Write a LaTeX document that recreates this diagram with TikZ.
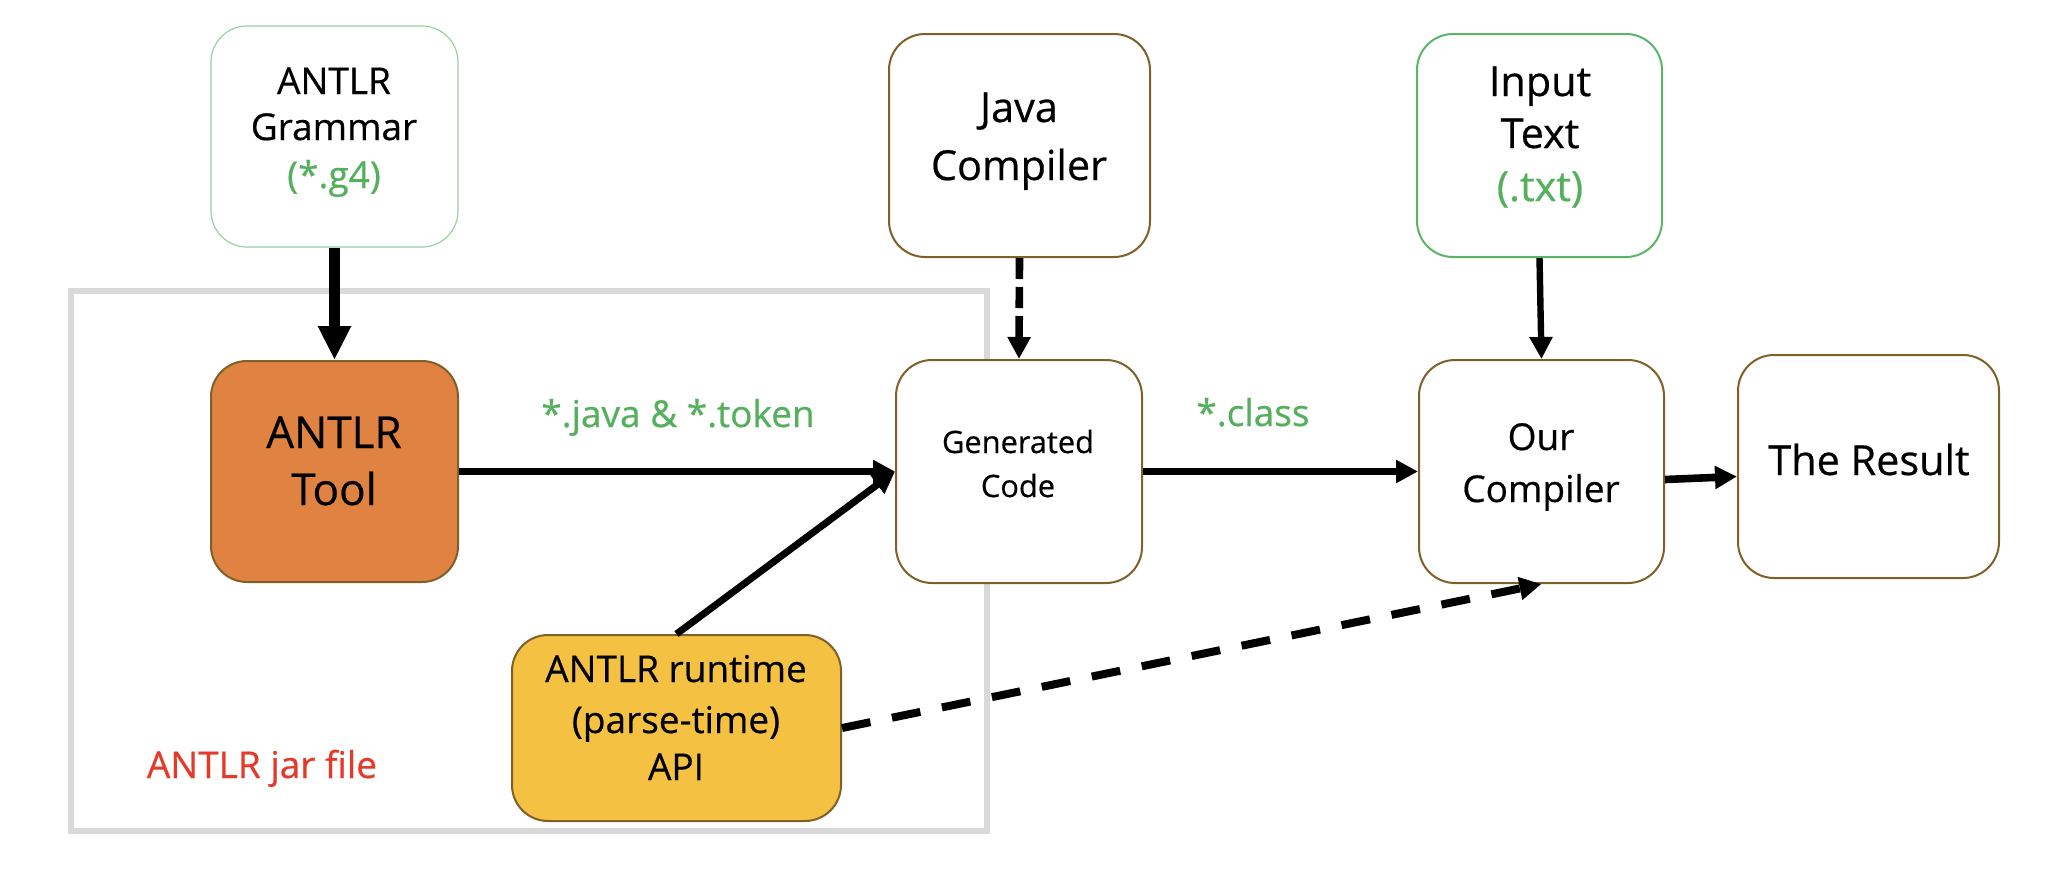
\documentclass[tikz,border=0pt]{standalone}
\usepackage{fontspec}
\setmainfont{Open Sans}[FakeBold=0.5]
\usetikzlibrary{arrows.meta}
\definecolor{brownb}{RGB}{127,96,40}
\definecolor{lgreen}{RGB}{150,210,160}
\definecolor{mgreen}{RGB}{92,180,105}
\definecolor{gtext}{RGB}{84,176,92}
\definecolor{orangef}{RGB}{224,130,66}
\definecolor{yellowf}{RGB}{245,193,66}
\definecolor{redt}{RGB}{229,57,42}
\definecolor{framegrey}{RGB}{217,217,217}
\tikzset{
  box/.style={draw=brownb, line width=1pt, rounded corners=18pt, fill=white, inner sep=0pt},
  lab/.style={inner sep=0pt, anchor=base},
  fa/.style={font=\fontsize{15.4}{18}\selectfont},
  fb/.style={font=\fontsize{18.5}{22}\selectfont},
  fc/.style={font=\fontsize{20.7}{24}\selectfont},
  fd/.style={font=\fontsize{22}{26}\selectfont},
  ar/.style={line width=3.8pt, -{Triangle[length=11pt,width=11pt]}},
}
\begin{document}
\begin{tikzpicture}[x=0.5pt,y=-0.5pt]
\useasboundingbox (0,0) rectangle (2058,890);
\fill[white] (0,0) rectangle (2058,890);

% frame
\node[draw=framegrey, line width=3.4pt, minimum width=458pt, minimum height=270pt, inner sep=0pt] (frame) at (529,561) {};

% boxes
\node[box, draw=lgreen, line width=0.6pt, minimum width=123.5pt, minimum height=110.5pt] (gram) at (334.5,136.5) {};
\node[box, minimum width=130.5pt, minimum height=111.5pt] (java) at (1019.5,145.5) {};
\node[box, draw=mgreen, minimum width=122.5pt, minimum height=111.5pt] (input) at (1539.5,145.5) {};
\node[box, fill=orangef, minimum width=123.5pt, minimum height=110.5pt] (tool) at (334.5,471.5) {};
\node[box, minimum width=123pt, minimum height=111.5pt] (gen) at (1019,471.5) {};
\node[box, minimum width=122.5pt, minimum height=111.5pt] (our) at (1541.5,471.5) {};
\node[box, minimum width=130.5pt, minimum height=111.5pt] (res) at (1868.5,466.5) {};
\node[box, fill=yellowf, minimum width=164.5pt, minimum height=93pt] (run) at (676.5,728) {};

% texts
\node[lab, fb] (gram1) at (334,94) {ANTLR};
\node[lab, fb] (gram2) at (334,140) {Grammar};
\node[lab, fb, text=gtext] (gram3) at (334,188) {(*.g4)};

\node[lab, fc] (java1) at (1019,122) {Java};
\node[lab, fc] (java2) at (1019,180) {Compiler};

\node[lab, fc] (input1) at (1540,96) {Input};
\node[lab, fc] (input2) at (1540,148) {Text};
\node[lab, fc, text=gtext] (input3) at (1540,201) {(.txt)};

\node[lab, fd] (tool1) at (334,448) {ANTLR};
\node[lab, fd] (tool2) at (334,505) {Tool};

\node[lab, fa] (gen1) at (1018,453) {Generated};
\node[lab, fa] (gen2) at (1018,497) {Code};

\node[lab, fb] (our1) at (1541,450) {Our};
\node[lab, fb] (our2) at (1541,502) {Compiler};

\node[lab, fc] (res1) at (1869,475) {The Result};

\node[lab, fb] (run1) at (676,682) {ANTLR runtime};
\node[lab, fb] (run2) at (676,733) {(parse-time)};
\node[lab, fb] (run3) at (676,780) {API};

\node[lab, fb, text=gtext] (lj) at (678,427) {*.java \& *.token};
\node[lab, fb, text=gtext] (lc) at (1253,426) {*.class};
\node[lab, fb, text=redt] (jar) at (262,778) {ANTLR jar file};

% connectors
\draw[line width=5.2pt, -{Triangle[length=17pt,width=15.5pt]}] (gram.south) -- (tool.north);
\draw[ar] (tool.east) -- (gen.west);
\draw[ar, line width=3.5pt] (run.north) -- (gen.west);
\draw[ar, dash pattern=on 10.5pt off 4pt] (java.south) -- (gen.north);
\draw[ar, line width=3.2pt] (input.south) -- (our.north);
\draw[ar] (gen.east) -- (our.west);
\draw[ar] ([yshift=-4pt]our.east) -- ([yshift=-5pt]res.west);
\draw[ar, line width=4pt, dash pattern=on 14.5pt off 11pt] (run.east) -- (our.south);
\end{tikzpicture}
\end{document}
